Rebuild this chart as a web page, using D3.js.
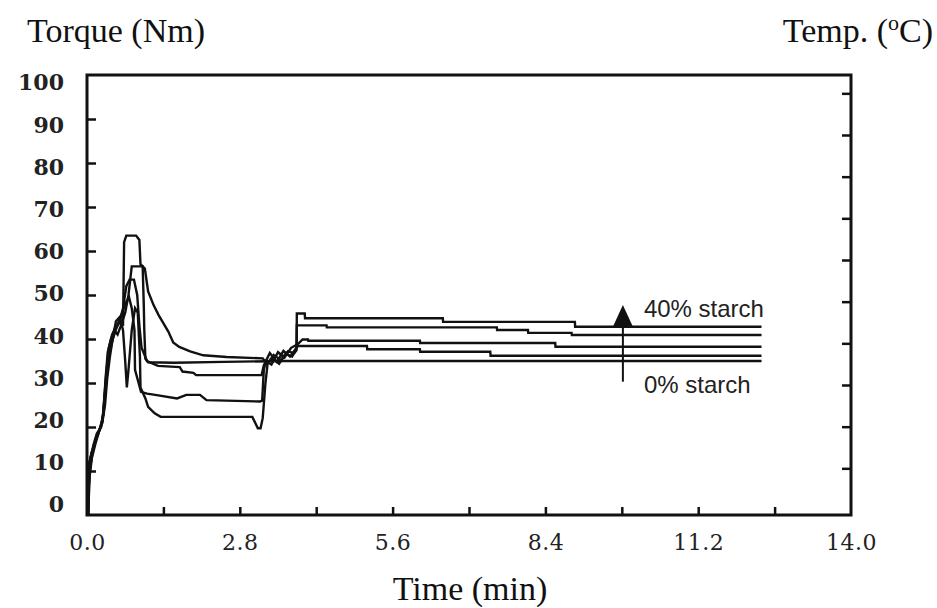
<!DOCTYPE html>
<html>
<head>
<meta charset="utf-8">
<script src="https://cdn.jsdelivr.net/npm/d3@7"></script>
<style>
  body { margin: 0; background: #fff; }
  svg { display: block; }
</style>
</head>
<body>
<svg id="chart" width="937" height="608"></svg>
<script>
// ---- axis ticks and labels ----
const timeTickValues = [1.4, 2.8, 4.2, 5.6, 7.0, 8.4, 9.8, 11.2, 12.6];
const timeLabelValues = [0, 2.8, 5.6, 8.4, 11.2, 14.0];
const torqueTickValues = [10, 20, 30, 40, 50, 60, 70, 80, 90];
const torqueLabelValues = [0, 10, 20, 30, 40, 50, 60, 70, 80, 90, 100];
const tempTickValues = [50, 75, 100, 125, 150, 175, 200, 225, 250, 275];

// ---- torque curves: [time (min), torque (Nm)] ----
const torque0 = [
  [0.02,0],[0.04,11],[0.08,14],[0.13,16],[0.19,18],[0.25,20],[0.3,23],[0.34,31],[0.38,37],
  [0.44,40],[0.5,42],[0.56,41],[0.62,43],[0.7,46],[0.76,50],[0.82,56.5],[1.02,56.5],
  [1.04,48],[1.05,42],[1.07,35.5],[1.12,34.7],[1.6,34.6],[2.5,34.8],[3.6,35.0],[12.36,35.0]
];
const torque10 = [
  [0.02,0],[0.03,6],[0.06,11],[0.1,14],[0.16,17],[0.22,19],[0.28,21],[0.33,25],[0.37,31],
  [0.42,36],[0.47,40],[0.53,44],[0.6,45],[0.66,42],[0.7,35],[0.73,29],[0.76,33],[0.82,42],
  [0.88,47],[0.93,46],[0.97,36],[0.98,29],[1.07,26.5],[1.12,24.6],[1.24,23.1],[1.35,22.3],
  [3.03,22.3],[3.13,19.7],[3.18,19.7],[3.22,22],[3.27,30],[3.31,34.5],[3.4,35.6],[3.52,34.4],
  [3.64,36.6],[3.76,36],[3.86,38.4],[5.13,38.4],[5.135,37.66],[6.1,37.66],[6.105,37.1],
  [7.39,37.1],[7.395,36.2],[12.36,36.2]
];
const torque20 = [
  [0.02,0],[0.04,12],[0.07,13],[0.12,16],[0.18,18.5],[0.26,20],[0.31,24],[0.35,30],[0.4,36],
  [0.47,40],[0.55,43],[0.62,45],[0.7,48],[0.77,49.5],[0.82,47],[0.87,42],[0.88,33],[0.99,28],
  [1.1,27.6],[1.25,27.3],[1.65,26.5],[1.82,27.3],[2.07,27.3],[2.19,26.1],[3.17,25.8],
  [3.21,26],[3.24,33],[3.28,35],[3.38,34.2],[3.5,37],[3.62,35.8],[3.74,38],[3.86,38.8],
  [3.95,39.9],[4.05,39.9],[4.055,39.6],[6.1,39.6],[6.105,39.1],[8.58,39.1],[8.585,38.25],
  [12.36,38.25]
];
const torque30 = [
  [0.02,0],[0.05,9],[0.09,13],[0.15,16],[0.22,19],[0.29,22],[0.34,29],[0.39,36],[0.45,39],
  [0.52,42],[0.6,44],[0.66,47],[0.72,52],[0.78,53.5],[0.86,53.5],[0.92,50],[0.96,43],[1.0,38],
  [1.1,35],[1.3,33.9],[1.7,33.6],[1.75,32.6],[1.95,32.3],[2.0,31.8],[3.2,31.8],[3.24,34],
  [3.35,36.8],[3.48,34.8],[3.6,37.3],[3.72,36],[3.84,38],[3.845,43.1],[4.39,43.1],
  [4.395,42.65],[7.51,42.65],[7.515,42.05],[8.08,42.05],[8.085,41.4],[8.88,41.4],
  [8.885,40.9],[12.36,40.9]
];
const torque40 = [
  [0.02,0],[0.03,9],[0.06,13],[0.11,15],[0.16,17],[0.22,19],[0.28,21],[0.32,27],[0.36,33],
  [0.4,38],[0.46,41],[0.54,43],[0.62,44],[0.66,43],[0.68,62],[0.72,63.5],[0.9,63.5],
  [0.96,62.5],[0.98,57],[1.06,56],[1.12,50.8],[1.22,47.7],[1.31,45.5],[1.49,41.7],[1.58,39.2],
  [1.69,38.2],[1.89,37.2],[2.13,36.3],[2.56,35.9],[3.22,35.6],[3.3,34.3],[3.42,36.4],
  [3.55,35.2],[3.68,37.2],[3.8,36.8],[3.84,37.5],[3.845,45.8],[3.99,45.8],[3.995,44.7],
  [6.52,44.7],[6.525,43.9],[8.94,43.9],[8.945,42.8],[12.36,42.8]
];
const seriesList = [torque0, torque10, torque20, torque30, torque40];

// ---- annotation: arrow from 0% to 40% starch ----
const arrowTime = 9.82;
const arrowBottom = 30.3;
const arrowTip = 47.7;
const arrowBase = 42.8;
const labelTop = "40% starch";
const labelBottom = "0% starch";

// ---- layout ----
const svg = d3.select("#chart");
const plot = { left: 87, right: 851, top: 75, bottom: 515 };

const x = d3.scaleLinear().domain([0, 14]).range([plot.left, plot.right]);
const y = d3.scaleLinear().domain([0, 100]).range([plot.bottom, plot.top]);
// torque labels sit on a slightly tighter band than the ticks
const yLabel = d3.scaleLinear().domain([0, 100]).range([504, 82]);
// temperature scale for the unlabeled right-hand ticks
const temp = d3.scaleLinear().domain([22, 286]).range([plot.bottom, plot.top]);

svg.append("rect").attr("width", 937).attr("height", 608).attr("fill", "#fff");

// inward ticks
const tickStyle = g => {
  g.select(".domain").remove();
  g.selectAll(".tick line").attr("stroke", "#111").attr("stroke-width", 2.5);
};
svg.append("g")
  .attr("transform", `translate(${plot.left},0)`)
  .call(d3.axisLeft(y).tickValues(torqueTickValues).tickSize(-9).tickFormat(""))
  .call(tickStyle);
svg.append("g")
  .attr("transform", `translate(${plot.right},0)`)
  .call(d3.axisRight(temp).tickValues(tempTickValues).tickSize(-9).tickFormat(""))
  .call(tickStyle);
svg.append("g")
  .attr("transform", `translate(0,${plot.bottom})`)
  .call(d3.axisBottom(x).tickValues(timeTickValues).tickSize(-8).tickFormat(""))
  .call(tickStyle);

// frame
svg.append("rect")
  .attr("x", x(0)).attr("y", y(100))
  .attr("width", x(14) - x(0)).attr("height", y(0) - y(100))
  .attr("fill", "none").attr("stroke", "#111").attr("stroke-width", 3);

// tick labels
const yLab = svg.append("g")
  .attr("transform", "translate(64,0)")
  .call(d3.axisLeft(yLabel).tickValues(torqueLabelValues).tickSize(0).tickPadding(0))
  .call(g => g.select(".domain").remove());
yLab.selectAll("text")
  .attr("font-family", "DejaVu Serif").attr("font-weight", "bold")
  .attr("font-size", 22).attr("fill", "#222").attr("dy", "0.36em");

const xLab = svg.append("g")
  .attr("transform", `translate(0,${plot.bottom})`)
  .call(d3.axisBottom(x).tickValues(timeLabelValues).tickSize(0).tickPadding(19)
        .tickFormat(d3.format(".1f")))
  .call(g => g.select(".domain").remove());
xLab.selectAll("text")
  .attr("font-family", "DejaVu Serif")
  .attr("font-size", 22).attr("letter-spacing", 0.5).attr("fill", "#222");

// torque curves
const line = d3.line().x(d => x(d[0])).y(d => y(d[1]));
svg.append("g")
  .selectAll("path")
  .data(seriesList)
  .join("path")
  .attr("d", line)
  .attr("fill", "none")
  .attr("stroke", "#111")
  .attr("stroke-width", 2.4)
  .attr("stroke-linejoin", "miter");

// arrow
const ax = x(arrowTime);
svg.append("line")
  .attr("x1", ax).attr("x2", ax)
  .attr("y1", y(arrowBottom)).attr("y2", y(arrowBase))
  .attr("stroke", "#111").attr("stroke-width", 2);
svg.append("path")
  .attr("d", `M${ax},${y(arrowTip)} L${ax + 10},${y(arrowBase)} L${ax - 10},${y(arrowBase)} Z`)
  .attr("fill", "#111");

svg.append("text")
  .attr("x", ax + 21).attr("y", y(arrowTip) + 12)
  .attr("font-family", "Liberation Sans, Arial, sans-serif")
  .attr("font-size", 24).attr("fill", "#222")
  .text(labelTop);
svg.append("text")
  .attr("x", ax + 21).attr("y", y(arrowBottom) + 11)
  .attr("font-family", "Liberation Sans, Arial, sans-serif")
  .attr("font-size", 24).attr("fill", "#222")
  .text(labelBottom);

// axis titles
const serif = "Liberation Serif, Times New Roman, serif";
svg.append("text")
  .attr("x", 27).attr("y", 42)
  .attr("font-family", serif).attr("font-size", 34).attr("fill", "#111")
  .text("Torque (Nm)");

const tempTitle = svg.append("text")
  .attr("x", 933).attr("y", 42).attr("text-anchor", "end")
  .attr("font-family", serif).attr("font-size", 34).attr("fill", "#111");
tempTitle.append("tspan").text("Temp. (");
tempTitle.append("tspan").attr("font-size", 22).attr("dy", -12).text("o");
tempTitle.append("tspan").attr("dy", 12).text("C)");

svg.append("text")
  .attr("x", 470).attr("y", 600).attr("text-anchor", "middle")
  .attr("font-family", serif).attr("font-size", 34).attr("fill", "#111")
  .text("Time (min)");
</script>
</body>
</html>
